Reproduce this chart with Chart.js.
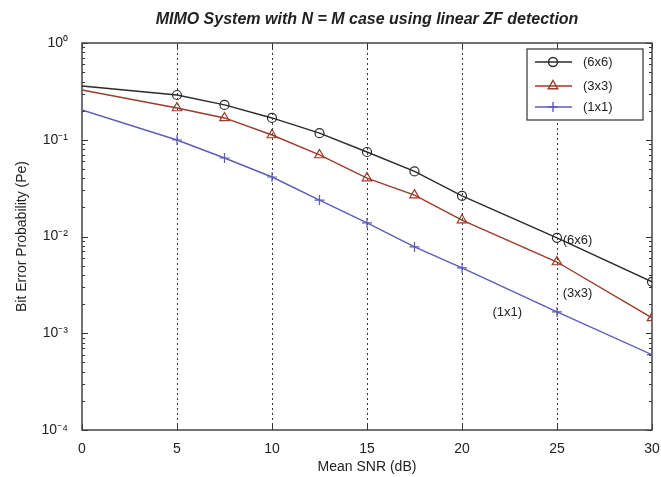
<!DOCTYPE html>
<html>
<head>
<meta charset="utf-8">
<script src="https://cdn.jsdelivr.net/npm/chart.js@4/dist/chart.umd.min.js"></script>
<style>
  html, body { margin: 0; padding: 0; background: #fff; }
  #wrap { width: 661px; height: 477px; position: relative; }
</style>
</head>
<body>
<div id="wrap"><canvas id="berChart"></canvas></div>
<script>
// values (Mean SNR in dB vs BER)
var snr = [0, 5, 7.5, 10, 12.5, 15, 17.5, 20, 25, 30];
var ber6x6 = [0.36, 0.29, 0.229, 0.168, 0.117, 0.0747, 0.047, 0.0263, 0.0097, 0.0034];
var ber3x3 = [0.327, 0.213, 0.168, 0.112, 0.0696, 0.0402, 0.0268, 0.0148, 0.00545, 0.00144];
var ber1x1 = [0.203, 0.0994, 0.0648, 0.0412, 0.0238, 0.0138, 0.0078, 0.00473, 0.00166, 0.0006];
var seriesNames = ["(6x6)", "(3x3)", "(1x1)"];
var xTicks = [0, 5, 10, 15, 20, 25, 30];
var yTicks = [1e-4, 1e-3, 1e-2, 1e-1, 1];
var gridAt = [5, 10, 15, 20, 25];
// in-plot text labels, in data coordinates
var curveLabels = [
  { text: "(6x6)", x: 25.3, y: 0.0092 },
  { text: "(3x3)", x: 25.3, y: 0.0026 },
  { text: "(1x1)", x: 21.6, y: 0.00166 }
];
var chartTitle = "MIMO System with N = M case using linear ZF detection";

var FONT = "'Liberation Sans', Arial, sans-serif";
var TXT = "#222";

function toPoints(ys) {
  var pts = [];
  for (var i = 0; i < snr.length; i++) pts.push({ x: snr[i], y: ys[i] });
  return pts;
}
function supLabel(v) {
  var sup = { "-": "\u207B", "0": "\u2070", "1": "\u00B9", "2": "\u00B2", "3": "\u00B3", "4": "\u2074" };
  var e = String(Math.round(Math.log10(v)));
  var s = "";
  for (var i = 0; i < e.length; i++) s += sup[e[i]];
  return "10" + s;
}

var styles = [
  { color: "#2a2a2a", point: "circle", r: 4.5 },
  { color: "#9a3b2b", point: "triangle", r: 5.5 },
  { color: "#5c5cb8", point: "cross", r: 5 }
];
var allSeries = [ber6x6, ber3x3, ber1x1];

var datasets = [];
for (var k = 0; k < allSeries.length; k++) {
  datasets.push({
    label: seriesNames[k],
    data: toPoints(allSeries[k]),
    borderColor: styles[k].color,
    backgroundColor: "rgba(255,255,255,0)",
    pointBorderColor: styles[k].color,
    pointBackgroundColor: "rgba(255,255,255,0)",
    pointStyle: styles[k].point,
    // no marker on the first sample, like the reference
    pointRadius: snr.map(function (v, i) { return i === 0 ? 0 : styles[k].r; }),
    pointBorderWidth: 1.2,
    borderWidth: 1.4,
    tension: 0
  });
}

var matlabAxes = {
  id: "matlabAxes",
  beforeDatasetsDraw: function (chart) {
    var ctx = chart.ctx, a = chart.chartArea;
    var xs = chart.scales.x, ys = chart.scales.y;
    ctx.save();
    // dotted vertical grid
    ctx.strokeStyle = "#333";
    ctx.lineWidth = 1;
    ctx.setLineDash([2, 3]);
    gridAt.forEach(function (g) {
      var px = Math.round(xs.getPixelForValue(g)) + 0.5;
      ctx.beginPath(); ctx.moveTo(px, a.top); ctx.lineTo(px, a.bottom); ctx.stroke();
    });
    ctx.setLineDash([]);
    // inward ticks
    ctx.strokeStyle = "#333";
    xTicks.forEach(function (t) {
      var px = Math.round(xs.getPixelForValue(t)) + 0.5;
      ctx.beginPath();
      ctx.moveTo(px, a.bottom); ctx.lineTo(px, a.bottom - 6);
      ctx.moveTo(px, a.top); ctx.lineTo(px, a.top + 6);
      ctx.stroke();
    });
    for (var e = -4; e <= 0; e++) {
      for (var m = 1; m <= 9; m++) {
        var v = m * Math.pow(10, e);
        if (v > 1) break;
        var py = Math.round(ys.getPixelForValue(v)) + 0.5;
        var len = m === 1 ? 6 : 3;
        ctx.beginPath();
        ctx.moveTo(a.left, py); ctx.lineTo(a.left + len, py);
        ctx.moveTo(a.right, py); ctx.lineTo(a.right - len, py);
        ctx.stroke();
      }
    }
    // box
    ctx.strokeStyle = "#444";
    ctx.lineWidth = 1.5;
    ctx.strokeRect(a.left, a.top, a.right - a.left, a.bottom - a.top);
    ctx.restore();
  },
  afterDatasetsDraw: function (chart) {
    var ctx = chart.ctx, a = chart.chartArea;
    var xs = chart.scales.x, ys = chart.scales.y;
    ctx.save();
    // curve labels
    ctx.font = "13px " + FONT;
    ctx.fillStyle = TXT;
    ctx.textBaseline = "middle";
    ctx.textAlign = "left";
    curveLabels.forEach(function (l) {
      ctx.fillText(l.text, xs.getPixelForValue(l.x), ys.getPixelForValue(l.y));
    });
    // legend box (top right, inside the axes)
    var bx = a.right - 125, by = a.top + 6, bw = 116, bh = 71;
    ctx.fillStyle = "#fff";
    ctx.fillRect(bx, by, bw, bh);
    ctx.strokeStyle = "#333";
    ctx.lineWidth = 1.2;
    ctx.strokeRect(bx, by, bw, bh);
    var rows = [13, 37, 58];
    chart.data.datasets.forEach(function (ds, i) {
      var yy = by + rows[i];
      ctx.strokeStyle = ds.borderColor;
      ctx.lineWidth = 1.4;
      ctx.beginPath(); ctx.moveTo(bx + 8, yy); ctx.lineTo(bx + 45, yy); ctx.stroke();
      ctx.fillStyle = "rgba(255,255,255,0)";
      Chart.helpers.drawPoint(ctx, {
        pointStyle: ds.pointStyle, radius: styles[i].r, borderWidth: 1.2
      }, bx + 26, yy);
      ctx.fillStyle = TXT;
      ctx.fillText(ds.label, bx + 56, yy);
    });
    // title
    ctx.font = "italic bold 16px " + FONT;
    ctx.textAlign = "center";
    ctx.fillText(chartTitle, (a.left + a.right) / 2, 20);
    ctx.restore();
  }
};

var ctx = document.getElementById("berChart").getContext("2d");
var berChart = new Chart(ctx, {
  type: "line",
  data: { datasets: datasets },
  options: {
    responsive: true,
    maintainAspectRatio: false,
    animation: false,
    layout: { padding: { top: 43, right: 9, bottom: 0, left: 0 } },
    plugins: { legend: { display: false }, tooltip: { enabled: false } },
    scales: {
      x: {
        type: "linear",
        min: 0, max: 30,
        afterBuildTicks: function (scale) {
          scale.ticks = xTicks.map(function (v) { return { value: v }; });
        },
        afterFit: function (scale) {
          scale.height = 47;
          scale.paddingLeft = 0;
          scale.paddingRight = 0;
        },
        grid: { display: false, drawTicks: false },
        border: { display: false },
        ticks: { color: TXT, font: { family: FONT, size: 14 }, padding: 11, maxRotation: 0 },
        title: { display: true, text: "Mean SNR (dB)", color: TXT,
                 font: { family: FONT, size: 14 }, padding: { top: 0, bottom: 1 } }
      },
      y: {
        type: "logarithmic",
        min: 1e-4, max: 1,
        afterBuildTicks: function (scale) {
          scale.ticks = yTicks.map(function (v) { return { value: v }; });
        },
        afterFit: function (scale) {
          scale.width = 82;
          scale.paddingTop = 0;
          scale.paddingBottom = 0;
        },
        grid: { display: false, drawTicks: false },
        border: { display: false },
        ticks: { color: TXT, font: { family: FONT, size: 14 }, padding: 14,
                 callback: function (v) { return supLabel(v); } },
        title: { display: true, text: "Bit Error Probability (Pe)", color: TXT,
                 font: { family: FONT, size: 14 }, padding: { top: 14, bottom: 0 } }
      }
    }
  },
  plugins: [matlabAxes]
});
</script>
</body>
</html>
